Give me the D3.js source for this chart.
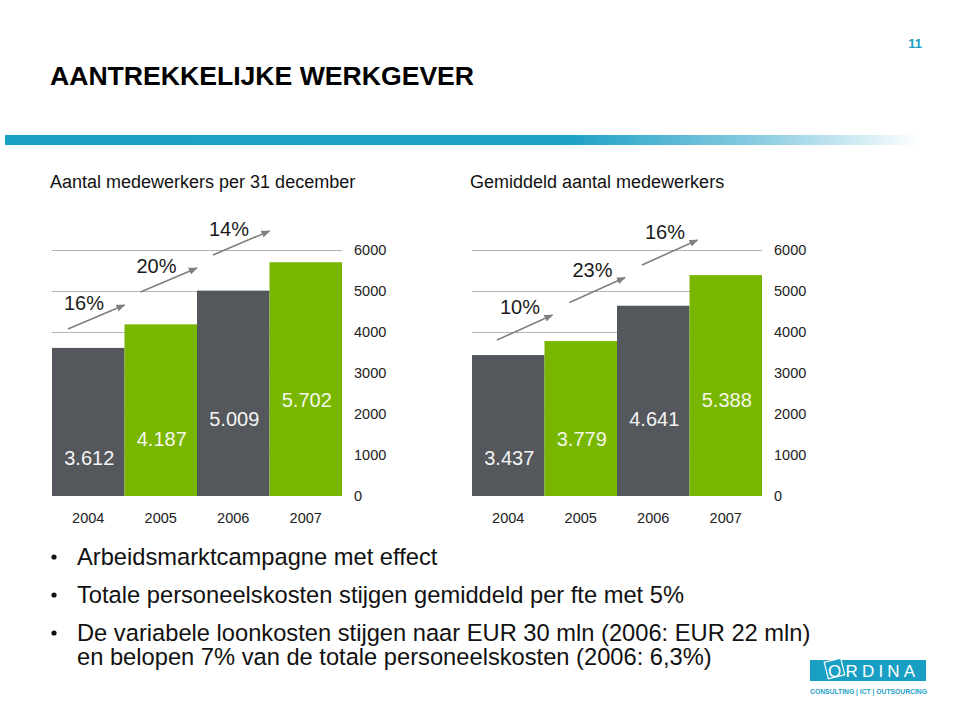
<!DOCTYPE html>
<html>
<head>
<meta charset="utf-8">
<script src="https://cdn.jsdelivr.net/npm/d3@7"></script>
<style>
  html, body { margin: 0; padding: 0; background: #fff; }
  svg { display: block; font-family: "Liberation Sans", Arial, Helvetica, sans-serif; }
</style>
</head>
<body>
<svg id="chart" width="960" height="718"></svg>
<script>
// ---------------- data ----------------
const years = ["2004", "2005", "2006", "2007"];
const headcountDec31 = [3612, 4187, 5009, 5702];
const headcountLabels = ["3.612", "4.187", "5.009", "5.702"];
const growthDec31 = ["16%", "20%", "14%"];
const headcountAvg = [3437, 3779, 4641, 5388];
const avgLabels = ["3.437", "3.779", "4.641", "5.388"];
const growthAvg = ["10%", "23%", "16%"];
const yTicks = [0, 1000, 2000, 3000, 4000, 5000, 6000];
const pageTitle = "AANTREKKELIJKE WERKGEVER";
const pageNumber = "11";
const chartTitles = ["Aantal medewerkers per 31 december", "Gemiddeld aantal medewerkers"];
const bullets = [
  ["Arbeidsmarktcampagne met effect"],
  ["Totale personeelskosten stijgen gemiddeld per fte met 5%"],
  ["De variabele loonkosten stijgen naar EUR 30 mln (2006: EUR 22 mln)",
   "en belopen 7% van de totale personeelskosten (2006: 6,3%)"]
];

// ---------------- styles ----------------
const DARK = "#54575b", GREEN = "#78b600", BLUE = "#1a9fc4", ARROW = "#808080";

const svg = d3.select("#chart");
const defs = svg.append("defs");

// header gradient bar
const grad = defs.append("linearGradient").attr("id", "hdr").attr("x1", "0").attr("x2", "1");
grad.append("stop").attr("offset", "0").attr("stop-color", BLUE);
grad.append("stop").attr("offset", "0.6").attr("stop-color", "#1fa1c5");
grad.append("stop").attr("offset", "0.8").attr("stop-color", "#8ccde2");
grad.append("stop").attr("offset", "0.97").attr("stop-color", "#ffffff");
svg.append("rect").attr("x", 5).attr("y", 135).attr("width", 945).attr("height", 10).attr("fill", "url(#hdr)");

svg.append("text").attr("x", 50).attr("y", 85).attr("font-size", 26.6).attr("font-weight", "bold")
  .attr("fill", "#000").text(pageTitle);
svg.append("text").attr("x", 915).attr("y", 48).attr("text-anchor", "middle").attr("font-size", 13)
  .attr("font-weight", "bold").attr("fill", BLUE).text(pageNumber);

// arrow marker
defs.append("marker").attr("id", "arr").attr("viewBox", "0 0 10 10").attr("refX", 9).attr("refY", 5)
  .attr("markerWidth", 9).attr("markerHeight", 9).attr("markerUnits", "userSpaceOnUse").attr("orient", "auto")
  .append("path").attr("d", "M0,1 L10,5 L0,9 Z").attr("fill", ARROW);

const y = d3.scaleLinear().domain([0, 6000]).range([496, 250]);

function drawChart(cfg) {
  const g = svg.append("g");
  const x = d3.scaleBand().domain(years).range([cfg.x0, cfg.x1]).padding(0);
  const bw = x.bandwidth();

  g.append("text").attr("x", cfg.titleX).attr("y", 188).attr("font-size", 18).attr("fill", "#111").text(cfg.title);

  // gridlines
  g.selectAll("line.grid").data(yTicks.filter(t => t > 0)).enter().append("line")
    .attr("x1", cfg.x0).attr("x2", cfg.x1).attr("y1", d => y(d) + 0.5).attr("y2", d => y(d) + 0.5)
    .attr("stroke", "#b4b4b4").attr("stroke-width", 1);

  // bars
  g.selectAll("rect.bar").data(cfg.values).enter().append("rect")
    .attr("x", (d, i) => x(years[i])).attr("width", bw)
    .attr("y", d => y(d)).attr("height", d => y(0) - y(d))
    .attr("fill", (d, i) => i % 2 === 0 ? DARK : GREEN);

  // value labels (staircase)
  g.selectAll("text.val").data(cfg.labels).enter().append("text")
    .attr("x", (d, i) => x(years[i]) + bw / 2 + 1).attr("y", (d, i) => y(0) - 31 - i * 19.3)
    .attr("text-anchor", "middle").attr("font-size", 20).attr("fill", (d, i) => i % 2 === 0 ? "#f4f4f4" : "#f4f6e8")
    .text(d => d);

  // right axis
  const axis = d3.axisRight(y).tickValues(yTicks).tickSize(0).tickPadding(0).tickFormat(d3.format("d"));
  const ag = g.append("g").attr("transform", `translate(${cfg.x1 + 12},0)`).call(axis);
  ag.select(".domain").remove();
  ag.selectAll("text").attr("font-size", 14.5).attr("fill", "#222").attr("font-family", "Liberation Sans, Arial, sans-serif");

  // year labels
  g.selectAll("text.yr").data(years).enter().append("text")
    .attr("x", d => x(d) + bw / 2).attr("y", 523).attr("text-anchor", "middle")
    .attr("font-size", 14.5).attr("fill", "#222").text(d => d);

  // growth annotations
  cfg.growth.forEach((p, i) => {
    const ly = cfg.labelY0 - i * cfg.labelStep;
    g.append("text").attr("x", x(years[i]) + cfg.labelDx).attr("y", ly + 7)
      .attr("text-anchor", "middle").attr("font-size", 20).attr("fill", "#1a1a1a").text(p);
    g.append("line")
      .attr("x1", x(years[i]) + cfg.arrowA).attr("y1", ly + cfg.arrowY1)
      .attr("x2", x(years[i + 1]) + cfg.arrowB).attr("y2", ly + cfg.arrowY2)
      .attr("stroke", ARROW).attr("stroke-width", 1.6).attr("marker-end", "url(#arr)");
  });
}

drawChart({ x0: 52, x1: 342, titleX: 50, title: chartTitles[0], values: headcountDec31, labels: headcountLabels,
  growth: growthDec31, labelY0: 303, labelStep: 37, labelDx: 32, arrowA: 16, arrowB: 0, arrowY1: 26, arrowY2: 2 });
drawChart({ x0: 472, x1: 762, titleX: 470, title: chartTitles[1], values: headcountAvg, labels: avgLabels,
  growth: growthAvg, labelY0: 307, labelStep: 37.5, labelDx: 48, arrowA: 25, arrowB: 8, arrowY1: 33, arrowY2: 8 });

// bullets
let by = 565;
bullets.forEach(lines => {
  svg.append("circle").attr("cx", 54).attr("cy", by - 8).attr("r", 2.6).attr("fill", "#111");
  lines.forEach((t, j) => {
    svg.append("text").attr("x", 77).attr("y", by + j * 24).attr("font-size", 23.7).attr("fill", "#111").text(t);
  });
  by += 38;
});

// logo
const lg = svg.append("g");
lg.append("rect").attr("x", 810).attr("y", 660).attr("width", 116).attr("height", 21).attr("fill", BLUE);
lg.append("rect").attr("x", 826).attr("y", 660).attr("width", 17).attr("height", 17)
  .attr("transform", "rotate(-14 834.5 668.5)").attr("fill", BLUE).attr("stroke", "#fff").attr("stroke-width", 1.2);
lg.append("text").attr("x", 828).attr("y", 677).attr("font-size", 17)
  .attr("letter-spacing", 4.2).attr("fill", "#fff").text("ORDINA");
lg.append("text").attr("x", 810).attr("y", 694).attr("font-size", 7.5).attr("font-weight", "bold")
  .attr("fill", BLUE).attr("textLength", 117).attr("lengthAdjust", "spacingAndGlyphs").text("CONSULTING | ICT | OUTSOURCING");
</script>
</body>
</html>
